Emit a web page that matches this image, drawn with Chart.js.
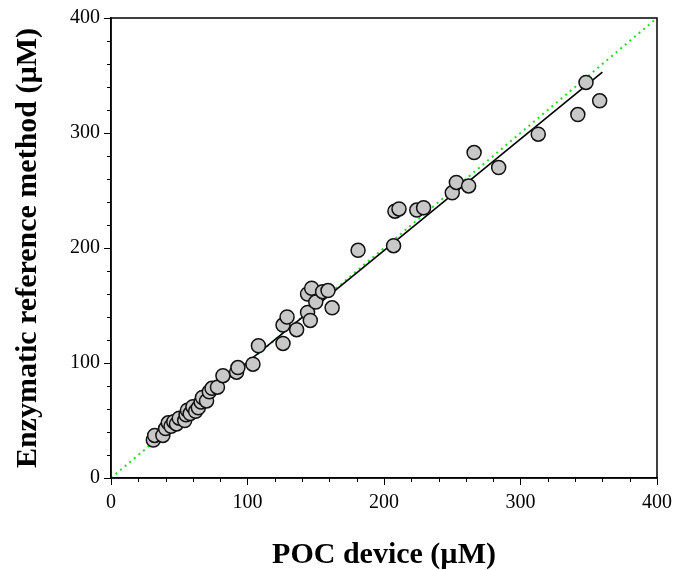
<!DOCTYPE html>
<html>
<head>
<meta charset="utf-8">
<script src="https://cdn.jsdelivr.net/npm/chart.js@4/dist/chart.umd.min.js"></script>
<style>
  html, body { margin: 0; padding: 0; background: #ffffff; }
  #wrap { width: 678px; height: 570px; }
</style>
</head>
<body>
<div id="wrap"><canvas id="chart" width="678" height="570"></canvas></div>
<script>
  // POC device (x) vs enzymatic reference (y), µM
  var pocValues = [31, 32, 38, 40, 42, 44, 46, 48, 50, 54, 55, 56, 58, 60, 62, 64, 66, 67, 70, 72, 74, 78, 82, 92, 93, 104, 108,
                   126, 126, 129, 136, 144, 144, 146, 147, 150, 155, 159, 162,
                   181, 207, 208, 211, 224, 229, 250, 253, 262, 266, 284, 313, 342, 348, 358];
  var refValues = [33, 37, 37, 43, 48, 45, 49, 47, 52, 50, 55, 59, 56, 62, 58, 61, 66, 70, 67, 75, 78, 79, 89, 92, 96, 99, 115,
                   117, 133, 140, 129, 160, 144, 137, 165, 153, 162, 163, 148,
                   198, 202, 232, 234, 233, 235, 248, 257, 254, 283, 270, 299, 316, 344, 328];

  // regression line end points and line of identity
  var fitX = [30, 360];
  var fitY = [33, 353];
  var identityX = [0, 400];
  var identityY = [0, 400];

  var axisMin = 0, axisMax = 400, majorStep = 100, minorStep = 20;

  function toPoints(xs, ys) {
    return xs.map(function (x, i) { return { x: x, y: ys[i] }; });
  }

  var serif = "'Liberation Serif', 'Times New Roman', serif";

  // box frame + short minor ticks
  var framePlugin = {
    id: 'frame',
    afterDraw: function (chart) {
      var ctx = chart.ctx, a = chart.chartArea;
      var xs = chart.scales.x, ys = chart.scales.y;
      ctx.save();
      ctx.strokeStyle = '#000';
      ctx.lineWidth = 1.5;
      ctx.strokeRect(a.left, a.top, a.right - a.left, a.bottom - a.top);
      ctx.lineWidth = 1;
      ctx.beginPath();
      xs.ticks.forEach(function (t) {
        if (t.value % majorStep !== 0) {
          var px = Math.round(xs.getPixelForValue(t.value)) + 0.5;
          ctx.moveTo(px, a.bottom);
          ctx.lineTo(px, a.bottom + 4);
        }
      });
      ys.ticks.forEach(function (t) {
        if (t.value % majorStep !== 0) {
          var py = Math.round(ys.getPixelForValue(t.value)) + 0.5;
          ctx.moveTo(a.left, py);
          ctx.lineTo(a.left - 4, py);
        }
      });
      ctx.stroke();
      ctx.restore();
    }
  };

  function axis(titleText, isY) {
    return {
      type: 'linear',
      min: axisMin,
      max: axisMax,
      afterFit: function (s) {
        if (isY) { s.width = 111; } else { s.height = 92; }
      },
      grid: {
        drawOnChartArea: false,
        drawTicks: true,
        tickLength: 7,
        tickColor: function (c) { return c.tick && c.tick.value % majorStep === 0 ? '#000' : 'rgba(0,0,0,0)'; }
      },
      border: { display: true, color: '#000', width: 1.5 },
      ticks: {
        stepSize: minorStep,
        color: '#000',
        padding: isY ? 4 : 6,
        maxRotation: 0,
        autoSkip: false,
        font: { family: serif, size: 20 },
        callback: function (v) { return v % majorStep === 0 ? v : ''; }
      },
      title: {
        display: true,
        text: titleText,
        color: '#000',
        font: { family: serif, size: 30, weight: 'bold', lineHeight: 1 },
        padding: isY ? { top: 13, bottom: 0 } : { top: 0, bottom: 0 }
      }
    };
  }

  new Chart(document.getElementById('chart'), {
    type: 'scatter',
    data: {
      datasets: [
        {
          label: 'Identity',
          type: 'line',
          data: toPoints(identityX, identityY),
          borderColor: '#22dd22',
          borderWidth: 2,
          borderDash: [2, 4],
          pointRadius: 0,
          fill: false,
          order: 3
        },
        {
          label: 'Fit',
          type: 'line',
          data: toPoints(fitX, fitY),
          borderColor: '#000',
          borderWidth: 1.6,
          pointRadius: 0,
          fill: false,
          order: 2
        },
        {
          label: 'Samples',
          data: toPoints(pocValues, refValues),
          backgroundColor: '#c8c8c8',
          borderColor: '#111',
          borderWidth: 1.5,
          pointRadius: 7,
          order: 1
        }
      ]
    },
    options: {
      responsive: false,
      animation: false,
      layout: { padding: { top: 18, right: 19, left: 0, bottom: 0 } },
      plugins: {
        legend: { display: false },
        tooltip: { enabled: false }
      },
      scales: {
        x: axis('POC device (\u00b5M)', false),
        y: axis('Enzymatic reference method (\u00b5M)', true)
      }
    },
    plugins: [framePlugin]
  });
</script>
</body>
</html>
